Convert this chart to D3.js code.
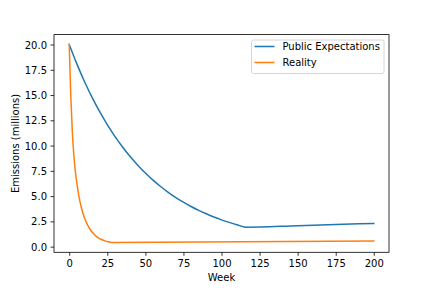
<!DOCTYPE html>
<html>
<head>
<meta charset="utf-8">
<script src="https://cdn.jsdelivr.net/npm/d3@7"></script>
<style>
  html, body { margin: 0; padding: 0; background: #fff; }
  svg { display: block; font-family: "DejaVu Sans", sans-serif; }
</style>
</head>
<body>
<svg id="chart" width="432" height="288"></svg>
<script>
// ---- data ----
const expectWeeks  = [0, 5, 10, 15, 20, 25, 30, 35, 40, 45, 50, 55, 60, 65, 70, 75, 80, 85, 90, 95, 100, 105, 110, 116, 150, 200];
const expectValues = [20.0, 18.08, 16.34, 14.77, 13.35, 12.07, 10.91, 9.86, 8.91, 8.06, 7.28, 6.58, 5.95, 5.38, 4.86, 4.40, 3.97, 3.59, 3.25, 2.93, 2.65, 2.40, 2.17, 1.93, 2.08, 2.30];

const realityWeeks  = [0, 1, 2, 3, 4, 5, 6, 7, 8, 9, 10, 12, 14, 16, 18, 20, 22, 24, 26, 28, 200];
const realityValues = [20.0, 15.0, 11.5, 9.1, 7.5, 6.3, 5.3, 4.5, 3.85, 3.3, 2.85, 2.15, 1.65, 1.28, 1.0, 0.8, 0.66, 0.55, 0.47, 0.42, 0.56];

const seriesNames  = ["Public Expectations", "Reality"];
const seriesColors = ["#1f77b4", "#ff7f0e"];
const xTicks = [0, 25, 50, 75, 100, 125, 150, 175, 200];
const yTicks = [0, 2.5, 5, 7.5, 10, 12.5, 15, 17.5, 20];

// ---- layout ----
const L = 54, R = 389, T = 34.6, B = 252.3;
const svg = d3.select("#chart");

const data = [
  expectWeeks.map((w, i) => ({x: w, y: expectValues[i]})),
  realityWeeks.map((w, i) => ({x: w, y: realityValues[i]}))
];

const allX = expectWeeks.concat(realityWeeks);
const allY = expectValues.concat(realityValues);
const xMin = d3.min(allX), xMax = d3.max(allX);
const yMin = d3.min(allY), yMax = d3.max(allY);
const xPad = (xMax - xMin) * 0.05, yPad = (yMax - yMin) * 0.05;

const x = d3.scaleLinear().domain([xMin - xPad, xMax + xPad]).range([L, R]);
const y = d3.scaleLinear().domain([yMin - yPad, yMax + yPad]).range([B, T]);

// lines
const line = d3.line().x(d => x(d.x)).y(d => y(d.y)).curve(d3.curveMonotoneX);
data.forEach((d, i) => {
  svg.append("path")
    .datum(d)
    .attr("fill", "none")
    .attr("stroke", seriesColors[i])
    .attr("stroke-width", 1.5)
    .attr("stroke-linejoin", "round")
    .attr("stroke-linecap", "square")
    .attr("d", line);
});

// axes
const xAxis = d3.axisBottom(x).tickValues(xTicks).tickFormat(d3.format("d")).tickSizeOuter(0).tickSize(3.5).tickPadding(3.5);
const yAxis = d3.axisLeft(y).tickValues(yTicks).tickFormat(d3.format(".1f")).tickSizeOuter(0).tickSize(3.5).tickPadding(3.5);

const gx = svg.append("g").attr("transform", `translate(0,${B})`).call(xAxis);
const gy = svg.append("g").attr("transform", `translate(${L},0)`).call(yAxis);
[gx, gy].forEach(g => {
  g.select(".domain").remove();
  g.selectAll(".tick line").attr("stroke", "#000").attr("stroke-width", 0.8);
  g.selectAll(".tick text").attr("fill", "#000").attr("font-size", 10).attr("font-family", "DejaVu Sans");
});
gx.selectAll(".tick text").attr("dy", null).attr("y", 15.2);
gy.selectAll(".tick text").attr("dy", null).attr("y", 3.6);

// spines
svg.append("rect")
  .attr("x", L).attr("y", T).attr("width", R - L).attr("height", B - T)
  .attr("fill", "none").attr("stroke", "#000").attr("stroke-width", 0.8);

// axis labels
svg.append("text")
  .attr("x", (L + R) / 2).attr("y", 281)
  .attr("text-anchor", "middle").attr("font-size", 10).attr("fill", "#000")
  .text("Week");
svg.append("text")
  .attr("transform", `translate(18.5,${(T + B) / 2}) rotate(-90)`)
  .attr("text-anchor", "middle").attr("font-size", 10).attr("fill", "#000")
  .text("Emissions (millions)");

// legend
const lg = svg.append("g");
lg.append("rect")
  .attr("x", 251.5).attr("y", 40).attr("width", 132.5).attr("height", 33.5)
  .attr("rx", 2).attr("ry", 2)
  .attr("fill", "#fff").attr("fill-opacity", 0.8)
  .attr("stroke", "#cccccc").attr("stroke-width", 0.8);
seriesNames.forEach((n, i) => {
  const cy = 46.5 + i * 16;
  lg.append("line")
    .attr("x1", 254.5).attr("x2", 274.5).attr("y1", cy).attr("y2", cy)
    .attr("stroke", seriesColors[i]).attr("stroke-width", 1.5);
  lg.append("text")
    .attr("x", 282.5).attr("y", cy + 3.6)
    .attr("font-size", 10).attr("fill", "#000")
    .text(n);
});
</script>
</body>
</html>
